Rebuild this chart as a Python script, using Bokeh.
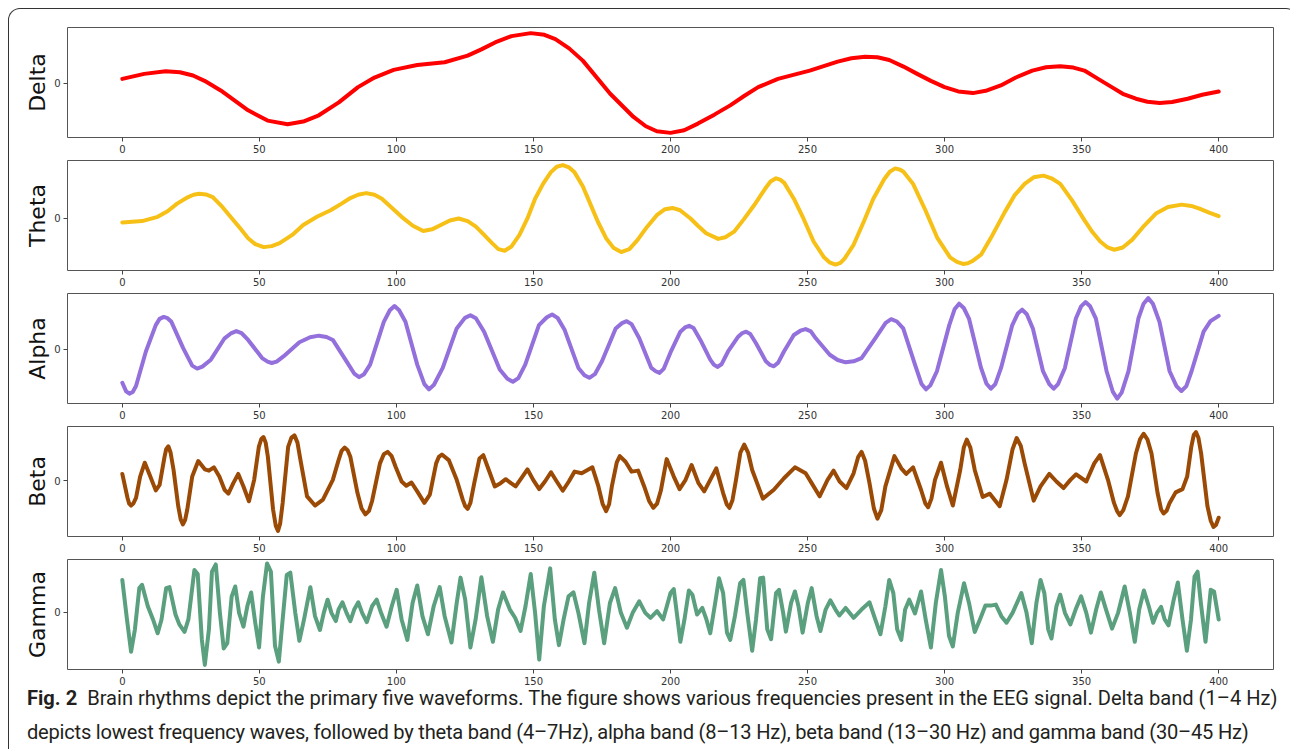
from bokeh.plotting import figure
from bokeh.layouts import column, row
from bokeh.models import FixedTicker, Div, Range1d, Spacer
from bokeh.embed import file_html
from bokeh.resources import INLINE

bands = ["Delta", "Theta", "Alpha", "Beta", "Gamma"]
colors = ["#FF0000", "#F7C016", "#9370DB", "#9B4A06", "#5A9F7E"]
x_ticks = [0, 50, 100, 150, 200, 250, 300, 350, 400]

caption_bold = "Fig. 2"
caption_line1 = ("Brain rhythms depict the primary five waveforms. The figure shows various "
                 "frequencies present in the EEG signal. Delta band (1–4 Hz)")
caption_line2 = ("depicts lowest frequency waves, followed by theta band (4–7Hz), alpha band "
                 "(8–13 Hz), beta band (13–30 Hz) and gamma band (30–45 Hz)")

delta_x = [0, 8, 15.8, 21, 25.8, 30, 35.9, 45.9, 53, 60.3, 66, 71.7, 79, 86, 92, 99, 107.6, 117.6,
           126, 131, 136, 142, 149, 154, 158, 163, 168, 178, 186.5, 191, 195, 200, 205, 210, 216,
           221.8, 227, 232, 239.2, 250.8, 261, 266, 271, 275.5, 279.8, 285, 290, 295, 300, 305,
           310.3, 315, 320.5, 326, 332, 337, 342.2, 347, 351, 356, 361, 365, 369.8, 374, 378.5,
           383, 388.7, 394, 400]
delta_y = [0.13, 0.28, 0.36, 0.33, 0.23, 0.07, -0.22, -0.82, -1.13, -1.24, -1.16, -0.97, -0.58,
           -0.12, 0.17, 0.40, 0.55, 0.63, 0.83, 1.02, 1.23, 1.42, 1.51, 1.46, 1.33, 1.05, 0.68,
           -0.32, -1.02, -1.30, -1.45, -1.50, -1.42, -1.22, -0.95, -0.67, -0.38, -0.12, 0.13, 0.38,
           0.65, 0.75, 0.80, 0.78, 0.70, 0.50, 0.28, 0.07, -0.12, -0.25, -0.30, -0.23, -0.07, 0.17,
           0.38, 0.48, 0.51, 0.47, 0.38, 0.13, -0.12, -0.32, -0.47, -0.56, -0.60, -0.57, -0.47,
           -0.35, -0.25]

theta_x = [0, 7.2, 12.9, 16.5, 20, 24, 26, 28, 30.5, 33, 36.5, 40, 43, 45.9, 48.5, 51.6, 54.5,
           57.4, 62, 66, 71, 76, 80, 83.2, 86, 89, 92, 94.7, 98, 101.9, 106, 109.8, 113, 116.2,
           119.5, 122.7, 126, 129, 132, 134.9, 137.2, 139.5, 142, 144.9, 147.8, 150.6, 153.5,
           156.3, 158.5, 160.7, 163, 165, 168, 170.7, 173.5, 176.5, 179.3, 182, 185, 188, 191.5,
           195, 198, 200.7, 203.5, 207.3, 210, 213, 217.4, 220, 223.2, 226.8, 230.5, 234.5,
           236.5, 238.5, 240, 241.5, 245, 248.5, 252.2, 256, 258, 260.2, 262, 263.5, 266.8,
           270.5, 274, 278, 280, 282, 283.8, 285, 288.5, 293, 297.4, 302, 304.5, 306.7, 308.5,
           310, 313.3, 317.5, 322, 325.5, 329.2, 332.5, 336.1, 339, 342.2, 346.5, 351, 354,
           356.8, 359.5, 361.9, 365, 368.4, 372.5, 377.1, 381.5, 386.5, 390, 393, 396.5, 400]
theta_y = [-0.12, -0.08, 0.05, 0.22, 0.45, 0.65, 0.72, 0.75, 0.73, 0.65, 0.35, 0.0, -0.30, -0.60,
           -0.78, -0.87, -0.84, -0.75, -0.50, -0.20, 0.05, 0.25, 0.45, 0.62, 0.72, 0.77, 0.72,
           0.60, 0.35, 0.05, -0.22, -0.38, -0.33, -0.20, -0.06, 0.0, -0.08, -0.25, -0.50, -0.75,
           -0.93, -0.98, -0.85, -0.50, 0.0, 0.60, 1.05, 1.40, 1.57, 1.62, 1.55, 1.40, 0.98, 0.45,
           -0.10, -0.60, -0.90, -1.02, -0.93, -0.65, -0.25, 0.10, 0.28, 0.32, 0.25, 0.0, -0.22,
           -0.45, -0.62, -0.57, -0.40, -0.02, 0.40, 0.90, 1.12, 1.22, 1.18, 1.08, 0.60, 0.0,
           -0.70, -1.18, -1.33, -1.40, -1.35, -1.22, -0.80, -0.10, 0.60, 1.20, 1.42, 1.52, 1.48,
           1.42, 1.05, 0.25, -0.60, -1.18, -1.32, -1.38, -1.36, -1.30, -1.10, -0.50, 0.20, 0.70,
           1.05, 1.25, 1.30, 1.22, 1.05, 0.55, -0.05, -0.42, -0.70, -0.88, -0.95, -0.88, -0.65,
           -0.25, 0.15, 0.35, 0.42, 0.38, 0.30, 0.18, 0.07]

alpha_x = [0, 1.4, 2.6, 3.8, 5, 8.6, 12.2, 13.6, 15.1, 16.5, 17.9, 22.2, 25.5, 27.3, 29.2, 32.3,
           37.3, 39.8, 41.6, 43.5, 45.9, 51, 53, 54.5, 56.3, 58.8, 64.6, 68.5, 71.7, 74.5, 76.8,
           81.8, 84.6, 86.4, 88.2, 90.4, 95.4, 97.6, 99.3, 101, 103.3, 107.6, 110.2, 111.9, 113.7,
           116.9, 122, 125, 127, 129, 132, 137.7, 140.5, 142.5, 144.5, 147, 152, 154.9, 156.8,
           158.8, 161.4, 166.4, 168.6, 170.4, 172.4, 175, 180, 182.3, 184, 185.8, 188.6, 193,
           194.6, 196, 197.5, 200, 203.6, 205.3, 206.8, 208.4, 210.9, 214.5, 215.8, 217.1, 218.6,
           221, 224.7, 226.2, 227.6, 229.1, 231.2, 234.8, 236.3, 237.7, 239.3, 241.4, 245, 247.4,
           249.3, 251.2, 253, 258.1, 261, 263.9, 266.8, 269.7, 274.7, 278.5, 280.5, 282.6, 284.9,
           289.2, 291.6, 293.2, 294.8, 297.2, 301.7, 303.7, 305.3, 307, 308.9, 313.3, 315.3,
           316.9, 318.5, 320.6, 324.7, 326.7, 328.3, 330, 332.2, 335.9, 338.2, 339.8, 341.4,
           343.9, 347.9, 349.8, 351.4, 353.1, 355.2, 359.1, 361.4, 363, 364.6, 367.1, 370.7,
           372.6, 374.3, 376, 378.4, 382.1, 384.6, 386.4, 388.2, 390.1, 394.5, 397, 400]
alpha_y = [-1.02, -1.28, -1.35, -1.30, -1.12, -0.07, 0.73, 0.92, 0.98, 0.94, 0.83, 0.03, -0.50,
           -0.59, -0.53, -0.32, 0.33, 0.49, 0.55, 0.49, 0.28, -0.27, -0.38, -0.42, -0.38, -0.22,
           0.21, 0.36, 0.41, 0.37, 0.28, -0.37, -0.74, -0.85, -0.76, -0.47, 0.83, 1.18, 1.31, 1.18,
           0.83, -0.47, -1.06, -1.22, -1.08, -0.57, 0.63, 0.95, 1.03, 0.94, 0.53, -0.62, -0.90,
           -0.99, -0.88, -0.47, 0.73, 0.97, 1.05, 0.95, 0.58, -0.57, -0.79, -0.87, -0.76, -0.37,
           0.63, 0.79, 0.85, 0.76, 0.33, -0.57, -0.67, -0.72, -0.60, -0.10, 0.53, 0.66, 0.71, 0.64,
           0.28, -0.32, -0.47, -0.54, -0.46, -0.07, 0.38, 0.49, 0.53, 0.46, 0.18, -0.37, -0.48,
           -0.52, -0.41, -0.07, 0.43, 0.56, 0.61, 0.54, 0.33, -0.17, -0.33, -0.40, -0.37, -0.27,
           0.33, 0.80, 0.91, 0.84, 0.63, -0.47, -1.06, -1.22, -1.10, -0.67, 0.73, 1.22, 1.38, 1.25,
           0.93, -0.57, -1.05, -1.20, -1.06, -0.57, 0.73, 1.08, 1.20, 1.06, 0.63, -0.67, -1.06,
           -1.20, -1.06, -0.57, 0.93, 1.30, 1.43, 1.30, 0.93, -0.67, -1.30, -1.50, -1.32, -0.67,
           0.93, 1.38, 1.55, 1.38, 0.83, -0.67, -1.12, -1.27, -1.12, -0.67, 0.53, 0.85, 1.01]

beta_x = [0, 1.9, 2.5, 3.2, 4, 5, 6.5, 8.2, 10, 12.2,
          13.6, 15.4, 16, 16.8, 17.6, 18.7, 20.4, 21.3, 22.1, 22.9,
          23.7, 25.5, 27.7, 30.1, 31.6, 33.4, 35.4, 37.3, 38.7, 40.5,
          42.3, 44.2, 46.2, 48.1, 49.8, 50.7, 51.5, 52.3, 53.1, 55,
          56, 56.8, 57.6, 58.5, 60.5, 61.7, 62.8, 63.9, 65, 67.4,
          70.3, 73.2, 76.8, 78.9, 80, 81.1, 82.2, 83.2, 85.8, 87.3,
          88.7, 90, 91.1, 94, 95.4, 96.8, 98.2, 99.7, 101.9, 103.6,
          105.5, 107.6, 110.2, 112.2, 114.5, 115.5, 116.6, 119.1, 122, 124.2,
          125.1, 126, 127, 128.4, 130.3, 131.7, 133.7, 135.9, 138, 139.9,
          141.8, 143.5, 145.6, 147.8, 149.9, 152.1, 154.2, 156.4, 158.5, 160.7,
          162.9, 165, 167.6, 171.5, 173.7, 175.2, 176.5, 177.6, 178.6, 180.4,
          181.5, 183.6, 185.8, 188.2, 190.4, 192.2, 193.7, 195.1, 196.5, 198.6,
          201.2, 203.3, 205.5, 207.7, 210.2, 212.3, 214.5, 216.7, 219.2, 220.5,
          221.5, 222.6, 223.9, 225.5, 226.9, 228.3, 229.8, 233.7, 237.7, 241.4,
          245.4, 249.3, 251.5, 254.4, 257.3, 259.5, 261.7, 264.2, 266.8, 268.5,
          269.7, 271, 272.6, 274.2, 275.5, 276.9, 278.4, 281.7, 284.2, 286,
          288.5, 291.4, 293, 294, 295.2, 296.5, 298.7, 300.9, 303, 305.7,
          307, 308.1, 309.4, 311, 313.9, 316.5, 320.1, 322.6, 324.8, 326.3,
          327.8, 329.2, 332.5, 335, 338.2, 340.8, 343.4, 345.9, 348, 351.7,
          354.6, 356.7, 359.6, 361.8, 362.9, 363.9, 365.2, 366.9, 369.8, 371.3,
          372.6, 374, 375.5, 377.7, 379, 379.9, 381, 382.1, 384.3, 386.8,
          388.5, 390, 390.9, 391.7, 392.6, 393.6, 395.9, 397.1, 398.1, 399,
          400]
beta_y = [0.20, -0.53, -0.70, -0.76, -0.70, -0.53, 0.12, 0.54, 0.17, -0.30,
          -0.13, 0.72, 0.95, 1.04, 0.85, 0.32, -0.78, -1.18, -1.33, -1.20,
          -0.88, 0.12, 0.59, 0.34, 0.30, 0.40, 0.12, -0.28, -0.40, -0.08,
          0.20, -0.18, -0.63, 0.02, 1.02, 1.26, 1.32, 1.15, 0.72, -0.88,
          -1.38, -1.53, -1.30, -0.68, 1.02, 1.30, 1.37, 1.15, 0.62, -0.48,
          -0.76, -0.58, 0.02, 0.62, 0.90, 1.00, 0.92, 0.72, -0.38, -0.85,
          -1.03, -0.92, -0.63, 0.52, 0.80, 0.87, 0.75, 0.42, -0.03, -0.16,
          -0.06, -0.33, -0.68, -0.43, 0.52, 0.72, 0.79, 0.62, 0.02, -0.58,
          -0.78, -0.86, -0.68, -0.08, 0.67, 0.77, 0.32, -0.18, -0.08, 0.04,
          -0.08, -0.18, 0.07, 0.34, 0.02, -0.26, -0.03, 0.25, -0.03, -0.31,
          -0.03, 0.27, 0.22, 0.40, -0.18, -0.70, -0.93, -0.72, -0.18, 0.55,
          0.74, 0.57, 0.27, 0.30, -0.18, -0.62, -0.83, -0.70, -0.30, 0.65,
          0.12, -0.26, 0.02, 0.47, -0.08, -0.33, 0.02, 0.37, -0.38, -0.72,
          -0.83, -0.60, 0.02, 0.85, 1.09, 0.85, 0.32, -0.55, -0.28, 0.07,
          0.40, 0.22, -0.08, -0.48, 0.02, 0.30, -0.03, -0.23, 0.22, 0.72,
          0.87, 0.60, -0.08, -0.85, -1.16, -0.90, -0.18, 0.74, 0.37, 0.20,
          0.40, -0.28, -0.70, -0.81, -0.55, 0.02, 0.54, -0.18, -0.76, 0.32,
          1.00, 1.24, 1.00, 0.32, -0.50, -0.40, -0.78, 0.02, 0.95, 1.29,
          1.05, 0.52, -0.61, -0.18, 0.20, -0.03, -0.23, 0.02, 0.19, -0.03,
          0.52, 0.77, 0.02, -0.68, -0.92, -1.05, -0.90, -0.48, 0.82, 1.25,
          1.42, 1.25, 0.82, -0.38, -0.88, -1.00, -0.92, -0.68, -0.36, -0.26,
          0.12, 1.02, 1.38, 1.47, 1.30, 0.82, -0.78, -1.22, -1.41, -1.35,
          -1.13]

gamma_x = [0, 1.7, 3.2, 4.6, 6.2, 7.2, 9.3, 11.2, 12.9, 14.3, 16, 17.2, 19.4, 20.8, 22.7, 24.1,
           26.3, 27.5, 29, 30.1, 31.6, 32.7, 34.1, 35.6, 37, 38.3, 39.9, 41.2, 42.6, 44.2, 45.6,
           47, 48.5, 49.9, 51.3, 52.8, 54.2, 55.7, 57.1, 58.5, 60, 61.3, 63.1, 64.6, 66.3, 68.6,
           70.3, 72.1, 73.5, 74.9, 76.3, 77.9, 78.9, 80.3, 81.8, 83.2, 84.6, 86.1, 87.5, 89.2,
           91.1, 92.8, 94.4, 96.4, 98.3, 100.1, 101.9, 104, 105.9, 107.6, 109.5, 111.5, 113.6,
           115.8, 117.6, 120.1, 122, 123.4, 125.1, 127, 128.9, 131, 133.1, 135.2, 137.1, 138.9,
           141.4, 143.3, 145.3, 147.1, 149, 150.6, 152.1, 153.8, 156.1, 157.8, 159.3, 161, 162.8,
           164.6, 166.4, 168.6, 170.3, 172.2, 173.9, 175.8, 177.9, 179.8, 181.9, 184.1, 186.2,
           188.6, 190.8, 192.7, 195.1, 197.3, 200, 201.2, 202.6, 203.6, 205.1, 206.7, 208, 209.7,
           211.6, 213.1, 214.5, 216.3, 217.7, 219.2, 220.6, 221.8, 223.5, 225.4, 226.6, 228,
           229.8, 231.2, 232.7, 233.8, 235.3, 236.7, 238.5, 239.6, 241.1, 242.1, 244, 245.4,
           246.7, 248.2, 250.1, 251.5, 253.3, 254.7, 256.6, 258.3, 260.2, 261.6, 263.9, 266.8,
           269.7, 272.6, 274.7, 276.6, 278.4, 279.8, 281.3, 282.7, 284.2, 285.6, 287.1, 289.2,
           291.4, 293.1, 295, 296.8, 298.7, 300.1, 301.6, 303, 304.8, 307.1, 308.9, 311, 312.9,
           314.9, 316.8, 318.7, 320.7, 322.6, 324.8, 328, 329.9, 331.8, 333.5, 335, 336.4, 337.8,
           339, 340.8, 342.2, 343.9, 345.9, 347.8, 349.8, 351.7, 353.4, 355.3, 357, 358.9, 361.1,
           363.3, 365.7, 367.6, 369.4, 371, 372.7, 374.5, 376.1, 377.5, 379, 380.3, 381.7, 383.6,
           385.1, 386.8, 388.4, 389.9, 391.2, 392.3, 393.5, 395.2, 397.1, 398.3, 400]
gamma_y = [0.98, -0.22, -1.20, -0.52, 0.73, 0.83, 0.18, -0.22, -0.64, -0.22, 0.73, 0.76, -0.07,
           -0.37, -0.60, -0.22, 1.28, 1.16, -0.82, -1.60, -0.52, 1.23, 1.45, -0.02, -1.10, -0.94,
           0.48, 0.78, -0.02, -0.44, 0.18, 0.60, -0.32, -1.07, 0.48, 1.48, 1.23, -1.02, -1.50,
           -0.22, 1.13, 1.20, -0.02, -0.87, -0.22, 0.76, -0.12, -0.54, -0.02, 0.38, -0.02, -0.27,
           0.08, 0.30, -0.02, -0.27, 0.08, 0.30, -0.02, -0.30, 0.18, 0.38, -0.02, -0.44, 0.18,
           0.68, -0.22, -0.84, 0.28, 0.81, -0.12, -0.67, 0.18, 0.76, -0.12, -0.92, 0.28, 1.05,
           0.38, -1.07, -0.22, 1.06, -0.12, -0.90, 0.08, 0.60, 0.08, -0.17, -0.57, 0.18, 1.16,
           -0.02, -1.44, 0.18, 1.33, -0.22, -1.00, -0.22, 0.48, 0.60, -0.02, -0.94, 0.28, 1.20,
           0.08, -0.94, 0.28, 0.73, -0.02, -0.47, -0.02, 0.33, -0.02, -0.17, 0.03, -0.22, 0.58,
           0.70, -0.22, -0.90, -0.22, 0.66, 0.53, -0.07, 0.13, -0.22, -0.64, 0.28, 1.03, 0.58,
           -0.62, -0.84, -0.12, 0.88, 0.98, -0.02, -1.17, -0.22, 1.03, 1.05, -0.52, -0.82, 0.58,
           0.68, -0.02, -0.59, 0.28, 0.63, 0.18, -0.62, 0.28, 0.73, -0.12, -0.57, 0.08, 0.36,
           0.08, -0.10, 0.13, -0.17, 0.08, 0.30, -0.22, -0.67, 0.18, 0.98, 0.58, -0.52, -0.84,
           0.08, 0.38, -0.04, 0.63, -0.22, -1.07, 0.28, 1.28, 0.48, -0.72, -1.04, -0.02, 0.88,
           0.28, -0.60, -0.22, 0.20, 0.20, 0.23, -0.12, -0.32, -0.02, 0.58, -0.02, -0.94, 0.28,
           0.98, 0.58, -0.52, -0.80, 0.18, 0.53, -0.02, -0.37, 0.08, 0.48, -0.02, -0.62, 0.08,
           0.60, 0.08, -0.50, -0.02, 0.78, -0.02, -0.90, 0.08, 0.66, 0.18, -0.32, -0.02, 0.16,
           -0.22, -0.40, 0.38, 0.90, -0.22, -1.17, -0.22, 1.08, 1.23, 0.28, -0.90, 0.68, 0.63,
           -0.22]

series = [(delta_x, delta_y), (theta_x, theta_y), (alpha_x, alpha_y),
          (beta_x, beta_y), (gamma_x, gamma_y)]
y_limits = [(-1.64, 1.68), (-1.58, 1.76), (-1.65, 1.69), (-1.70, 1.64), (-1.74, 1.60)]

FONT = "DejaVu Sans"
figs = []
for i, (name, col, (xs, ys), (lo, hi)) in enumerate(zip(bands, colors, series, y_limits)):
    top = 18 if i == 0 else 5
    p = figure(width=1278, height=110 + top + 18,
               x_range=Range1d(-20, 420), y_range=Range1d(lo, hi),
               output_backend="svg", toolbar_location=None,
               min_border_left=58, min_border_right=14,
               min_border_top=top, min_border_bottom=18)
    p.line(xs, ys, line_color=col, line_width=4, line_join="round", line_cap="round")
    p.grid.visible = False
    p.outline_line_color = "#555555"
    p.outline_line_width = 1
    p.background_fill_color = "white"
    p.border_fill_color = None

    p.xaxis.ticker = FixedTicker(ticks=x_ticks)
    p.yaxis.ticker = FixedTicker(ticks=[0])
    for ax in (p.xaxis[0], p.yaxis[0]):
        ax.axis_line_color = None
        ax.major_tick_line_color = "#444444"
        ax.major_tick_out = 4
        ax.major_tick_in = 0
        ax.minor_tick_line_color = None
        ax.major_label_text_font = FONT
        ax.major_label_text_font_size = "10px"
        ax.major_label_text_color = "#333333"
        ax.major_label_standoff = 3
    p.yaxis.axis_label = name
    p.yaxis.axis_label_text_font = FONT
    p.yaxis.axis_label_text_font_size = "22px"
    p.yaxis.axis_label_text_font_style = "normal"
    p.yaxis.axis_label_text_color = "#111111"
    p.yaxis.axis_label_standoff = 1
    figs.append(p)

caption = Div(
    width=1278, height=52,
    styles={"background": "transparent", "pointer-events": "none"},
    text=('<div style="margin-top:-11px; padding-left:13px; font-family: Roboto, sans-serif; '
          'font-size:20.1px; line-height:34px; color:#231F20; white-space:nowrap; '
          'background:transparent;">'
          f'<b>{caption_bold}</b>&nbsp; {caption_line1}<br>'
          f'<span style="letter-spacing:-0.22px;">{caption_line2}</span></div>'))

panel = column(*figs, caption, spacing=0,
               styles={"border": "1px solid #333333", "border-bottom": "none",
                       "border-radius": "12px 12px 0 0", "background": "white"})

layout = column(Spacer(width=1280, height=8),
                row(Spacer(width=8, height=10), panel, spacing=0),
                spacing=0)

open("out.html", "w").write(file_html(layout, INLINE))
